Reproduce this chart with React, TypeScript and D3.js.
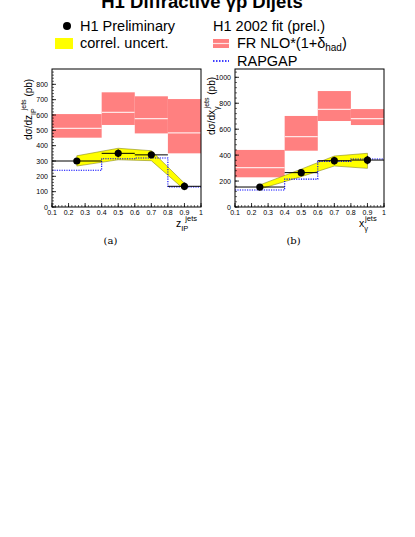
import React from 'react';
import * as d3 from 'd3';

// bins and point positions shared by both panels
const binEdges = [0.1, 0.4, 0.6, 0.8, 1.0];
const pointX = [0.25, 0.5, 0.7, 0.9];
const xTicks = [0.1, 0.2, 0.3, 0.4, 0.5, 0.6, 0.7, 0.8, 0.9, 1];

// panel (a): z_IP
const zData = [300, 350, 340, 135];
const zErr = [15, 25, 20, 25];
const zBandHi = [334, 383, 367, 155];
const zBandLo = [267, 308, 302, 113];
const zNloLo = [452, 535, 480, 350];
const zNloHi = [606, 748, 722, 704];
const zNloMid = [513, 617, 576, 484];
const zRapgap = [240, 315, 320, 130];
const zYTicks = [0, 100, 200, 300, 400, 500, 600, 700, 800];

// panel (b): x_gamma
const xgData = [154, 265, 357, 362];
const xgErr = [12, 28, 30, 32];
const xgBandHi = [170, 292, 393, 414];
const xgBandLo = [138, 234, 316, 298];
const xgNloLo = [229, 434, 663, 632];
const xgNloHi = [440, 702, 894, 755];
const xgNloMid = [303, 542, 753, 681];
const xgRapgap = [131, 215, 352, 370];
const xgYTicks = [0, 200, 400, 600, 800, 1000];

const SANS = 'Liberation Sans, Arial, sans-serif';

type PanelProps = {
  left: number;
  yMax: number;
  yTicks: number[];
  minorStep: number;
  data: number[];
  err: number[];
  bandHi: number[];
  bandLo: number[];
  nloLo: number[];
  nloHi: number[];
  nloMid: number[];
  rapgap: number[];
  letter: string;
  var: string;
  sub: string;
  titleStart: number;
};

const Panel = (p: PanelProps) => {
  const top = 69;
  const bottom = 207;
  const width = 149;
  const x = d3.scaleLinear().domain([0.1, 1]).range([p.left, p.left + width]);
  const y = d3.scaleLinear().domain([0, p.yMax]).range([bottom, top]);

  const minorX = d3.range(0.1, 1.0001, 0.02);
  const minorY = d3.range(0, p.yMax, p.minorStep);

  const bins = binEdges.slice(0, -1).map((lo, i) => ({ lo, hi: binEdges[i + 1], i }));

  const band = d3
    .area<number>()
    .x((_, i) => x(pointX[i]))
    .y0((_, i) => y(p.bandLo[i]))
    .y1((_, i) => y(p.bandHi[i]));

  const stepPts: [number, number][] = bins.map((b) => [b.lo, p.rapgap[b.i]]);
  stepPts.push([1, p.rapgap[p.rapgap.length - 1]]);
  const step = d3
    .line<[number, number]>()
    .x((d) => x(d[0]))
    .y((d) => y(d[1]))
    .curve(d3.curveStepAfter);

  const cx = p.left - 20;
  return (
    <g fontFamily={SANS}>
      {/* FR NLO bands */}
      {bins.map((b) => (
        <g key={'nlo' + b.i}>
          <rect
            x={x(b.lo)}
            width={x(b.hi) - x(b.lo)}
            y={y(p.nloHi[b.i])}
            height={y(p.nloLo[b.i]) - y(p.nloHi[b.i])}
            fill="#ff8080"
          />
          <line x1={x(b.lo)} x2={x(b.hi)} y1={y(p.nloMid[b.i])} y2={y(p.nloMid[b.i])} stroke="#ffe4e4" strokeWidth={1.3} />
        </g>
      ))}
      {/* correlated uncertainty band */}
      <path d={band(pointX) || ''} fill="#ffff00" stroke="#8a8a20" strokeWidth={0.6} />
      {/* RAPGAP */}
      <path d={step(stepPts) || ''} fill="none" stroke="#0000ff" strokeWidth={1.1} strokeDasharray="1.2,1.2" />
      {/* data bins */}
      {bins.map((b) => (
        <line key={'d' + b.i} x1={x(b.lo)} x2={x(b.hi)} y1={y(p.data[b.i])} y2={y(p.data[b.i])} stroke="#000" strokeWidth={1} />
      ))}
      {pointX.map((px, i) => (
        <g key={'p' + i}>
          <line x1={x(px)} x2={x(px)} y1={y(p.data[i] - p.err[i])} y2={y(p.data[i] + p.err[i])} stroke="#000" strokeWidth={1.5} />
          <circle cx={x(px)} cy={y(p.data[i])} r={3.6} fill="#000" />
        </g>
      ))}
      {/* frame */}
      <rect x={p.left} y={top} width={width} height={bottom - top} fill="none" stroke="#000" strokeWidth={1} />
      {/* ticks */}
      {minorX.map((t, i) => (
        <line key={'mx' + i} x1={x(t)} x2={x(t)} y1={bottom} y2={bottom - 2} stroke="#000" strokeWidth={0.6} />
      ))}
      {xTicks.map((t) => (
        <g key={'x' + t}>
          <line x1={x(t)} x2={x(t)} y1={bottom} y2={bottom - 4} stroke="#000" strokeWidth={0.8} />
          <text x={x(t)} y={214.5} fontSize={7} textAnchor="middle">
            {t === 1 ? '1' : t.toFixed(1)}
          </text>
        </g>
      ))}
      {minorY.map((t, i) => (
        <line key={'my' + i} x1={p.left} x2={p.left + 2} y1={y(t)} y2={y(t)} stroke="#000" strokeWidth={0.6} />
      ))}
      {p.yTicks.map((t) => (
        <g key={'y' + t}>
          <line x1={p.left} x2={p.left + 4} y1={y(t)} y2={y(t)} stroke="#000" strokeWidth={0.8} />
          <text x={p.left - 4} y={y(t) + 2.5} fontSize={7} textAnchor="end">
            {t}
          </text>
        </g>
      ))}
      {/* y title */}
      <text transform={`translate(${cx},${p.titleStart}) rotate(-90)`} fontSize={10}>
        <tspan>dσ/d{p.var}</tspan>
        <tspan fontSize={7} dy={4}>{p.sub}</tspan>
        <tspan fontSize={7} dx={-2} dy={-10}>jets</tspan>
        <tspan dy={6}>{' (pb)'}</tspan>
      </text>
      {/* x title */}
      <text x={p.left + width - 25} y={227} fontSize={10.5}>
        <tspan>{p.var}</tspan>
        <tspan fontSize={7.5} dy={4}>{p.sub}</tspan>
        <tspan fontSize={7.5} dx={-3} dy={-10.5}>jets</tspan>
      </text>
      <text x={p.left + width / 2 - 16} y={244} fontSize={10} textAnchor="middle" fontFamily="DejaVu Serif, serif">
        ({p.letter})
      </text>
    </g>
  );
};

export default function App() {
  return (
    <svg width={415} height={537} style={{ position: 'absolute', left: 0, top: 0, background: '#fff' }}>
      <rect width={415} height={537} fill="#fff" />
      <text x={202} y={8} fontSize={18.5} fontWeight="bold" textAnchor="middle" fontFamily={SANS}>
        H1 Diffractive γp Dijets
      </text>
      {/* legend */}
      <g fontFamily={SANS} fontSize={14.5}>
        <circle cx={67} cy={26} r={4} fill="#000" />
        <text x={80} y={31}>H1 Preliminary</text>
        <rect x={55} y={38} width={18} height={11} fill="#ffff00" />
        <text x={80} y={48}>correl. uncert.</text>
        <text x={213} y={31}>H1 2002 fit (prel.)</text>
        <rect x={213} y={39} width={16} height={9} fill="#ff8080" />
        <line x1={213} x2={229} y1={43.5} y2={43.5} stroke="#ffe4e4" strokeWidth={1.2} />
        <text x={237} y={48}>
          FR NLO*(1+δ<tspan fontSize={10} dy={3}>had</tspan>
          <tspan dy={-3}>)</tspan>
        </text>
        <line x1={213} x2={229} y1={61} y2={61} stroke="#0000ff" strokeWidth={1.5} strokeDasharray="1.5,1.5" />
        <text x={237} y={66}>RAPGAP</text>
      </g>
      <Panel
        left={52}
        yMax={900}
        yTicks={zYTicks}
        minorStep={20}
        data={zData}
        err={zErr}
        bandHi={zBandHi}
        bandLo={zBandLo}
        nloLo={zNloLo}
        nloHi={zNloHi}
        nloMid={zNloMid}
        rapgap={zRapgap}
        letter="a"
        var="z"
        sub="IP"
        titleStart={140}
      />
      <Panel
        left={235}
        yMax={1064}
        yTicks={xgYTicks}
        minorStep={40}
        data={xgData}
        err={xgErr}
        bandHi={xgBandHi}
        bandLo={xgBandLo}
        nloLo={xgNloLo}
        nloHi={xgNloHi}
        nloMid={xgNloMid}
        rapgap={xgRapgap}
        letter="b"
        var="x"
        sub="γ"
        titleStart={135}
      />
    </svg>
  );
}
